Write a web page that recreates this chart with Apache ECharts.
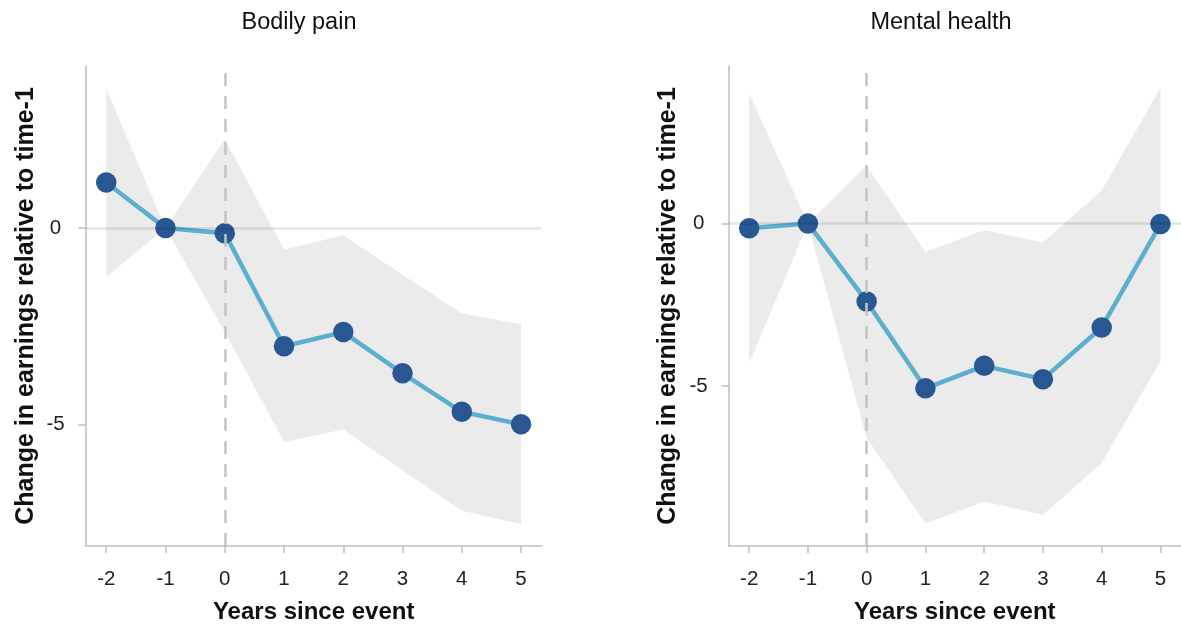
<!DOCTYPE html>
<html>
<head>
<meta charset="utf-8">
<script src="https://cdn.jsdelivr.net/npm/echarts@6/dist/echarts.min.js"></script>
<style>
html,body{margin:0;padding:0;background:#fff;}
#chart{width:1181px;height:629px;}
</style>
</head>
<body>
<div id="chart"></div>
<script>
// ---- data ----
const years = [-2, -1, 0, 1, 2, 3, 4, 5];
const xTicks = [-2, -1, 0, 1, 2, 3, 4, 5];
const yTicks = [-5, 0];

const painEst  = [1.16, 0, -0.13, -3.01, -2.65, -3.70, -4.68, -5.00];
const painLow  = [-1.25, 0, -2.65, -5.45, -5.13, -6.17, -7.20, -7.54];
const painHigh = [3.55, 0, 2.27, -0.55, -0.18, -1.19, -2.17, -2.45];

const mentalEst  = [-0.15, 0, -2.40, -5.07, -4.38, -4.79, -3.20, -0.02];
const mentalLow  = [-4.30, 0, -6.60, -9.23, -8.55, -8.96, -7.37, -4.23];
const mentalHigh = [4.00, 0, 1.77, -0.88, -0.20, -0.59, 1.01, 4.16];

const titles = ['Bodily pain', 'Mental health'];
const xName = 'Years since event';
const yName = 'Change in earnings relative to time-1';

// ---- chart ----
const chart = echarts.init(document.getElementById('chart'));
const AXIS = '#bebebe';
const FONT = 'Liberation Sans, Arial, sans-serif';

function bandSeries(idx, low, high) {
  return {
    type: 'custom',
    xAxisIndex: idx, yAxisIndex: idx,
    z: 1,
    silent: true,
    data: years.map((x, i) => [x, low[i], high[i]]),
    encode: { x: 0, y: [1, 2] },
    renderItem: function (params, api) {
      if (params.dataIndex !== 0) return null;
      const pts = [];
      for (let i = 0; i < years.length; i++) pts.push(api.coord([years[i], high[i]]));
      for (let i = years.length - 1; i >= 0; i--) pts.push(api.coord([years[i], low[i]]));
      return { type: 'polygon', shape: { points: pts }, style: { fill: '#ebebeb' } };
    }
  };
}
function refSeries(idx) {
  return {
    type: 'line', xAxisIndex: idx, yAxisIndex: idx, z: 2, data: [], silent: true,
    markLine: {
      silent: true, symbol: 'none', animation: false,
      label: { show: false },
      data: [
        { yAxis: 0, lineStyle: { color: 'rgba(0,0,0,0.1)', width: 2.5, type: 'solid' } },
        { xAxis: 0, lineStyle: { color: '#c4c4c4', width: 2.5, type: [13, 10] } }
      ]
    }
  };
}
function estSeries(idx, est) {
  return {
    type: 'line', xAxisIndex: idx, yAxisIndex: idx, z: 3,
    data: years.map((x, i) => [x, est[i]]),
    symbol: 'circle', symbolSize: 20.5,
    lineStyle: { color: '#5cafcf', width: 4.5 },
    itemStyle: { color: '#285791' },
    animation: false
  };
}
function xAxis(idx) {
  return {
    type: 'value', gridIndex: idx, min: -2.35, max: 5.35,
    axisLine: { show: true, onZero: false, lineStyle: { color: AXIS, width: 1.5 } },
    axisTick: { show: true, length: 7, customValues: xTicks, lineStyle: { color: AXIS, width: 1.5 } },
    axisLabel: { customValues: xTicks, margin: 23, color: '#222', fontSize: 20.5, fontFamily: FONT },
    splitLine: { show: false },
    name: xName, nameLocation: 'middle', nameGap: 54,
    nameTextStyle: { fontSize: 24, fontWeight: 'bold', color: '#111', fontFamily: FONT }
  };
}
function yAxis(idx, min, max, gap) {
  return {
    type: 'value', gridIndex: idx, min: min, max: max,
    axisLine: { show: true, onZero: false, lineStyle: { color: AXIS, width: 1.5 } },
    axisTick: { show: true, length: 7, customValues: yTicks, lineStyle: { color: AXIS, width: 1.5 } },
    axisLabel: { customValues: yTicks, margin: 30, align: 'center', color: '#222', fontSize: 20.5, fontFamily: FONT },
    splitLine: { show: false },
    name: yName, nameLocation: 'middle', nameGap: gap, nameRotate: 90,
    nameTextStyle: { fontSize: 25, fontWeight: 'bold', color: '#111', fontFamily: FONT }
  };
}

chart.setOption({
  animation: false,
  backgroundColor: '#fff',
  title: [
    { text: titles[0], left: 294, top: 6, textAlign: 'center',
      textStyle: { fontSize: 23.5, fontWeight: 'normal', color: '#111', fontFamily: FONT } },
    { text: titles[1], left: 936, top: 6, textAlign: 'center',
      textStyle: { fontSize: 23.5, fontWeight: 'normal', color: '#111', fontFamily: FONT } }
  ],
  grid: [
    { left: 85.5, top: 66, width: 456.3, height: 485, containLabel: false },
    { left: 728.6, top: 66, width: 456.1, height: 485, containLabel: false }
  ],
  xAxis: [xAxis(0), xAxis(1)],
  yAxis: [yAxis(0, -8.1, 4.13, 46.5), yAxis(1, -9.92, 4.84, 48)],
  series: [
    bandSeries(0, painLow, painHigh), refSeries(0), estSeries(0, painEst),
    bandSeries(1, mentalLow, mentalHigh), refSeries(1), estSeries(1, mentalEst)
  ]
});
</script>
</body>
</html>
